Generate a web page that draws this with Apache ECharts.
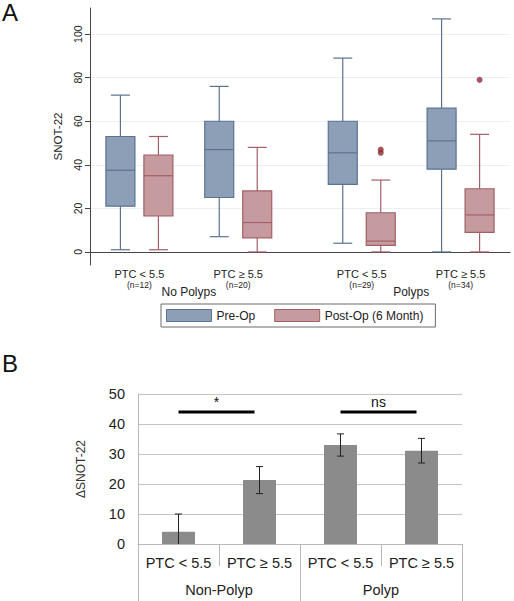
<!DOCTYPE html>
<html>
<head>
<meta charset="utf-8">
<script src="https://cdn.jsdelivr.net/npm/echarts@6/dist/echarts.min.js"></script>
<style>
html,body{margin:0;padding:0;background:#fff;}
#chart{width:514px;height:601px;}
</style>
</head>
<body>
<div id="chart"></div>
<script>
// ---------- Panel A data ----------
const categories = ['PTC < 5.5', 'PTC \u2265 5.5', 'PTC < 5.5', 'PTC \u2265 5.5'];
const sampleSizes = ['(n=12)', '(n=20)', '(n=29)', '(n=34)'];
const groups = ['No Polyps', 'Polyps'];
// [min, Q1, median, Q3, max]
const preOp = [
  [1, 21, 37.5, 53, 72],
  [7, 25, 47, 60, 76],
  [4, 31, 45.5, 60, 89],
  [0, 38, 51, 66, 107]
];
const postOp = [
  [1, 16.5, 35, 44.5, 53],
  [0, 6.5, 13.5, 28, 48],
  [0, 3, 5, 18, 33],
  [0, 9, 17, 29, 54]
];
// [category index, value]
const postOpOutliers = [[2, 47], [2, 45.5], [3, 79]];
const yTicksA = [0, 20, 40, 60, 80, 100];

// ---------- Panel B data ----------
const changeCategories = ['PTC < 5.5', 'PTC \u2265 5.5', 'PTC < 5.5', 'PTC \u2265 5.5'];
const changeGroups = ['Non-Polyp', 'Polyp'];
const changeMean = [4.1, 21.3, 33.0, 31.1];
const changeErr = [5.9, 4.5, 3.7, 4.1];
// [from category, to category, level, label]
const significance = [[0, 1, 44, '*'], [2, 3, 44, 'ns']];

// ---------- layout (slot positions on the top axis) ----------
const SLOT_COUNT = 18;
const catSlots = [2, 6, 11, 15];
const groupSlots = [4, 13];

const FONT = 'Liberation Sans, Arial, Helvetica, sans-serif';
const preFill = '#8c9fb7', preStroke = '#5b7292';
const postFill = '#c59b9f', postStroke = '#a25f66';

const slotData = Array.from({length: SLOT_COUNT}, (_, i) => 's' + i);

function boxRender(offset, fill, stroke) {
  return function (params, api) {
    const c = api.value(0);
    const x = api.coord([c, 0])[0] + offset;
    const y = [1, 2, 3, 4, 5].map(k => api.coord([c, api.value(k)])[1]);
    const half = 14.5, cap = 9.5;
    const ls = {stroke: stroke, lineWidth: 1.2};
    return {
      type: 'group',
      children: [
        {type: 'line', shape: {x1: x, y1: y[4], x2: x, y2: y[3]}, style: ls},
        {type: 'line', shape: {x1: x, y1: y[1], x2: x, y2: y[0]}, style: ls},
        {type: 'line', shape: {x1: x - cap, y1: y[4], x2: x + cap, y2: y[4]}, style: ls},
        {type: 'line', shape: {x1: x - cap, y1: y[0], x2: x + cap, y2: y[0]}, style: ls},
        {type: 'rect', shape: {x: x - half, y: y[3], width: half * 2, height: y[1] - y[3]},
          style: {fill: fill, stroke: stroke, lineWidth: 1.2}},
        {type: 'line', shape: {x1: x - half, y1: y[2], x2: x + half, y2: y[2]}, style: ls}
      ]
    };
  };
}

const chart = echarts.init(document.getElementById('chart'), null, {renderer: 'svg'});

chart.setOption({
  animation: false,
  backgroundColor: '#fff',
  textStyle: {fontFamily: FONT},
  title: [
    {text: 'A', left: 2, top: 0, padding: 0, textStyle: {fontSize: 24, fontWeight: 'normal', color: '#111', fontFamily: FONT}},
    {text: 'B', left: 2, top: 351, padding: 0, textStyle: {fontSize: 24, fontWeight: 'normal', color: '#111', fontFamily: FONT}}
  ],
  legend: {
    left: 161, top: 304,
    itemWidth: 45, itemHeight: 12, itemGap: 19,
    padding: [5, 12, 5, 5],
    borderColor: '#6a6a6a', borderWidth: 1,
    textStyle: {fontSize: 12, color: '#222', fontFamily: FONT},
    data: [
      {name: 'Pre-Op', icon: 'rect', itemStyle: {color: preFill, borderColor: preStroke, borderWidth: 1}},
      {name: 'Post-Op (6 Month)', icon: 'rect', itemStyle: {color: postFill, borderColor: postStroke, borderWidth: 1}}
    ]
  },
  grid: [
    {left: 90, right: 4, top: 8, bottom: 336},
    {left: 138, right: 52, top: 394, bottom: 57}
  ],
  xAxis: [
    {
      gridIndex: 0, type: 'category', data: slotData, boundaryGap: false,
      axisLine: {lineStyle: {color: '#444', width: 1}},
      axisTick: {show: false},
      splitLine: {show: false},
      axisLabel: {
        interval: 0, margin: 2, color: '#222',
        formatter: function (v, idx) {
          const i = catSlots.indexOf(idx);
          return i < 0 ? '' : '{a|' + categories[i] + '}\n{b|' + sampleSizes[i] + '}';
        },
        rich: {
          a: {fontSize: 11, lineHeight: 13, color: '#222', fontFamily: FONT},
          b: {fontSize: 8.5, lineHeight: 10, color: '#222', fontFamily: FONT}
        }
      }
    },
    {
      gridIndex: 0, type: 'category', data: slotData, boundaryGap: false, position: 'bottom', offset: 0,
      axisLine: {show: false}, axisTick: {show: false}, splitLine: {show: false},
      axisLabel: {
        interval: 0, margin: 21, fontSize: 12, color: '#222',
        formatter: function (v, idx) {
          const i = groupSlots.indexOf(idx);
          return i < 0 ? '' : groups[i];
        }
      }
    },
    {
      gridIndex: 1, type: 'category', data: changeCategories.map((c, i) => 'c' + i),
      axisLine: {lineStyle: {color: '#b9b9b9', width: 1}},
      axisTick: {show: true, interval: 0, length: 22, lineStyle: {color: '#b9b9b9'}},
      axisLabel: {interval: 0, margin: 11, fontSize: 14.5, color: '#222',
        formatter: (v, idx) => changeCategories[idx]}
    },
    {
      gridIndex: 1, type: 'category', data: changeGroups, position: 'bottom', offset: 0,
      axisLine: {show: false},
      axisTick: {show: true, interval: 0, length: 57, lineStyle: {color: '#b9b9b9'}},
      axisLabel: {interval: 0, margin: 38, fontSize: 14.5, color: '#222'}
    }
  ],
  yAxis: [
    {
      gridIndex: 0, type: 'value', min: -6, max: 112,
      name: 'SNOT-22', nameLocation: 'middle', nameRotate: 90, nameGap: 17,
      nameTextStyle: {fontSize: 11.5, color: '#222', fontFamily: FONT},
      axisLine: {show: true, lineStyle: {color: '#444', width: 1}},
      axisTick: {show: true, length: 5, customValues: yTicksA, lineStyle: {color: '#444'}},
      axisLabel: {rotate: 90, margin: 7, fontSize: 10.5, color: '#222', customValues: yTicksA},
      splitLine: {show: true, lineStyle: {color: '#edf0f3', width: 1}}
    },
    {
      gridIndex: 1, type: 'value', min: 0, max: 50, interval: 10,
      name: '\u0394SNOT-22', nameLocation: 'middle', nameRotate: 90, nameGap: 51,
      nameTextStyle: {fontSize: 12, color: '#333', fontFamily: FONT},
      axisLine: {show: true, lineStyle: {color: '#b9b9b9', width: 1}},
      axisTick: {show: false},
      axisLabel: {margin: 13, fontSize: 14.5, color: '#222'},
      splitLine: {show: true, lineStyle: {color: '#c4c4c4', width: 1}}
    }
  ],
  series: [
    {
      name: 'Pre-Op', type: 'custom', xAxisIndex: 0, yAxisIndex: 0,
      itemStyle: {color: preFill, borderColor: preStroke},
      renderItem: boxRender(-19, preFill, preStroke),
      encode: {x: 0, y: [1, 2, 3, 4, 5]},
      data: preOp.map((d, i) => [catSlots[i]].concat(d))
    },
    {
      name: 'Post-Op (6 Month)', type: 'custom', xAxisIndex: 0, yAxisIndex: 0,
      itemStyle: {color: postFill, borderColor: postStroke},
      renderItem: boxRender(19, postFill, postStroke),
      encode: {x: 0, y: [1, 2, 3, 4, 5]},
      data: postOp.map((d, i) => [catSlots[i]].concat(d))
    },
    {
      name: 'Post-Op outliers', type: 'scatter', xAxisIndex: 0, yAxisIndex: 0,
      symbol: 'circle', symbolSize: 6, symbolOffset: [19, 0],
      itemStyle: {color: '#8e2d35'},
      data: postOpOutliers.map(d => [catSlots[d[0]], d[1]])
    },
    {
      name: 'Change', type: 'bar', xAxisIndex: 2, yAxisIndex: 1,
      barWidth: 33, itemStyle: {color: '#8b8b8b'},
      data: changeMean
    },
    {
      name: 'Error', type: 'custom', xAxisIndex: 2, yAxisIndex: 1, clip: true, z: 5,
      renderItem: function (params, api) {
        const i = api.value(0), m = api.value(1), e = api.value(2);
        const top = api.coord([i, m + e]);
        const bot = api.coord([i, m - e]);
        const x = top[0], cap = 3.5;
        const ls = {stroke: '#222', lineWidth: 1};
        return {type: 'group', children: [
          {type: 'line', shape: {x1: x, y1: top[1], x2: x, y2: bot[1]}, style: ls},
          {type: 'line', shape: {x1: x - cap, y1: top[1], x2: x + cap, y2: top[1]}, style: ls},
          {type: 'line', shape: {x1: x - cap, y1: bot[1], x2: x + cap, y2: bot[1]}, style: ls}
        ]};
      },
      encode: {x: 0, y: [1, 2]},
      data: changeMean.map((m, i) => [i, m, changeErr[i]])
    },
    {
      name: 'Significance', type: 'custom', xAxisIndex: 2, yAxisIndex: 1, z: 6,
      renderItem: function (params, api) {
        const a = api.coord([api.value(0), api.value(2)]);
        const b = api.coord([api.value(1), api.value(2)]);
        const label = significance[params.dataIndex][3];
        const x1 = a[0], x2 = b[0] - 5;
        return {type: 'group', children: [
          {type: 'line', shape: {x1: x1, y1: a[1], x2: x2, y2: a[1]}, style: {stroke: '#000', lineWidth: 3}},
          {type: 'text', x: (x1 + x2) / 2, y: a[1] - 3,
            style: {text: label, fill: '#111', font: '14px ' + FONT, align: 'center', verticalAlign: 'bottom'}}
        ]};
      },
      encode: {x: [0, 1], y: 2},
      data: significance.map(s => [s[0], s[1], s[2]])
    }
  ]
});
</script>
</body>
</html>
